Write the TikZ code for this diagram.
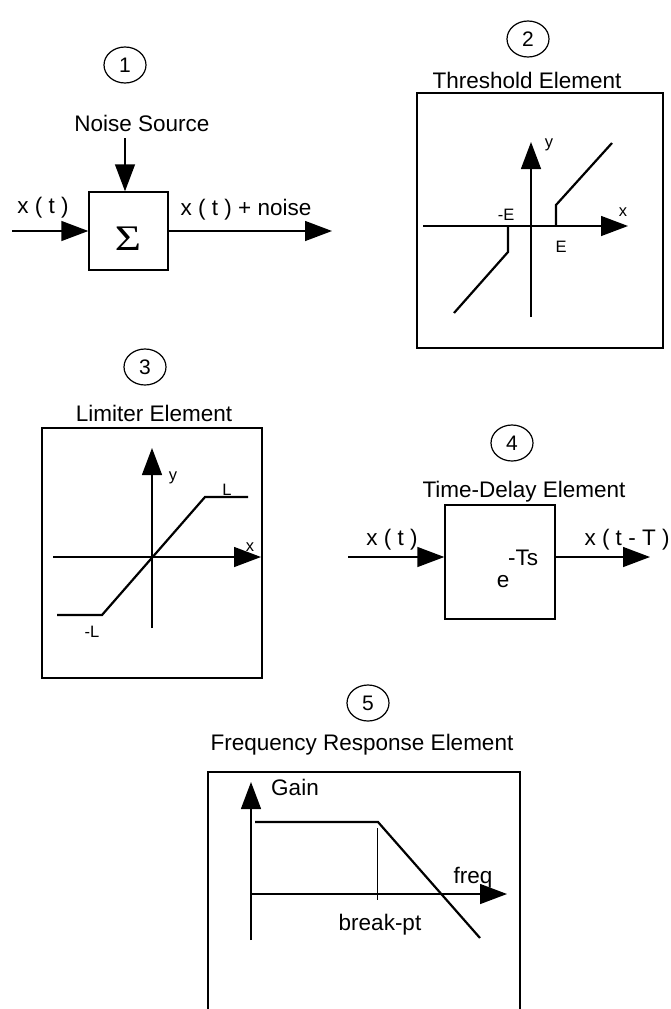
\documentclass[tikz,border=0pt]{standalone}
\usepackage{fontspec}
\setmainfont{Liberation Sans}
\newfontfamily\sigfont{Liberation Serif}
\usetikzlibrary{arrows.meta,shapes.geometric}
\begin{document}
\begin{tikzpicture}[x=1pt,y=-1pt,
 lbl/.style={font=\fontsize{22.5}{27}\selectfont, inner sep=0pt},
 sml/.style={font=\fontsize{16.5}{19}\selectfont, inner sep=0pt},
 num/.style={draw, ellipse, line width=1.2pt, minimum width=42pt, minimum height=36pt, inner sep=0pt, font=\fontsize{21}{25}\selectfont},
 blk/.style={draw, line width=1.4pt, inner sep=0pt},
 arr/.style={line width=1.4pt, -{Triangle[length=27pt,width=20pt]}},
 ln/.style={line width=1.4pt},
 crv/.style={line width=2.2pt},
 thin line/.style={line width=0.7pt}]
\useasboundingbox (0,0) rectangle (670,1009);

% ---------- Panel 1: noise source ----------
\node[num] (c1) at (125,65) {1};
\node[lbl] (noise) at (142,123) {Noise Source};
\node[blk, minimum width=79pt, minimum height=78pt] (box1) at (128.5,231) {};
\node[font=\sigfont\fontsize{36}{36}\selectfont, inner sep=0pt] (sig) at (128,239) {\scalebox{1.25}[1]{Σ}};
\coordinate (in1) at (12,231);
\coordinate (out1) at (332,231);
\coordinate (ns) at (125,138);
\draw[arr] (in1) -- (box1.west);
\draw[arr] (box1.east) -- (out1);
\draw[arr] (ns) -- (ns |- box1.north);
\node[lbl] (xt1) at (43,208) {x ( t )};
\node[lbl] (xn1) at (246,210) {x ( t ) + noise};

% ---------- Panel 2: threshold ----------
\node[num] (c2) at (528,39) {2};
\node[lbl] (t2) at (527,80) {Threshold Element};
\node[blk, minimum width=246pt, minimum height=255pt] (box2) at (540,220.5) {};
\draw[arr] (531,317) -- (531,142);
\draw[arr] (423,226) -- (628,226);
\draw[crv] (556,226) -- (556,205) -- (612,143);
\draw[crv] (508,226) -- (508,252) -- (454,313);
\node[sml] (y2) at (549,145) {y};
\node[sml] (x2) at (623,212) {x};
\node[sml] (mE) at (506,215) {-E};
\node[sml] (pE) at (561,247) {E};

% ---------- Panel 3: limiter ----------
\node[num] (c3) at (145,367) {3};
\node[lbl] (t3) at (154,413) {Limiter Element};
\node[blk, minimum width=220pt, minimum height=250pt] (box3) at (152,553) {};
\draw[arr] (152,628) -- (152,448);
\draw[arr] (53,557) -- (261,557);
\draw[crv] (57,615) -- (102,615) -- (205,497) -- (248,497);
\node[sml] (y3) at (173,478) {y};
\node[sml] (x3) at (250,547) {x};
\node[sml] (pL) at (227,490) {L};
\node[sml] (mL) at (92,632) {-L};

% ---------- Panel 4: time delay ----------
\node[num] (c4) at (512,443) {4};
\node[lbl] (t4) at (524,492) {Time-Delay Element};
\node[blk, minimum width=110pt, minimum height=114pt] (box4) at (500,562) {};
\coordinate (in4) at (348,557);
\coordinate (out4) at (650,557);
\draw[arr] (in4) -- (in4 -| box4.west);
\draw[arr] (box4.east |- out4) -- (out4);
\node[lbl] (xt4) at (392,540) {x ( t )};
\node[lbl] (xT4) at (627,540) {x ( t - T )};
\node[lbl] (e4) at (503,582) {e};
\node[lbl] (ts4) at (523,558) {-Ts};

% ---------- Panel 5: frequency response ----------
\node[num] (c5) at (368,703) {5};
\node[lbl] (t5) at (362,745) {Frequency Response Element};
\draw[ln] (208,1009) -- (208,772) -- (520,772) -- (520,1009);
\draw[arr] (251,940) -- (251,782);
\draw[arr] (251,894) -- (507,894);
\draw[crv] (255,822) -- (378,822) -- (480,938);
\draw[thin line] (377,828) -- (377,900);
\node[lbl] (gain) at (295,787) {Gain};
\node[lbl] (freq) at (473,878) {freq};
\node[lbl] (bp) at (380,925) {break-pt};
\end{tikzpicture}
\end{document}
